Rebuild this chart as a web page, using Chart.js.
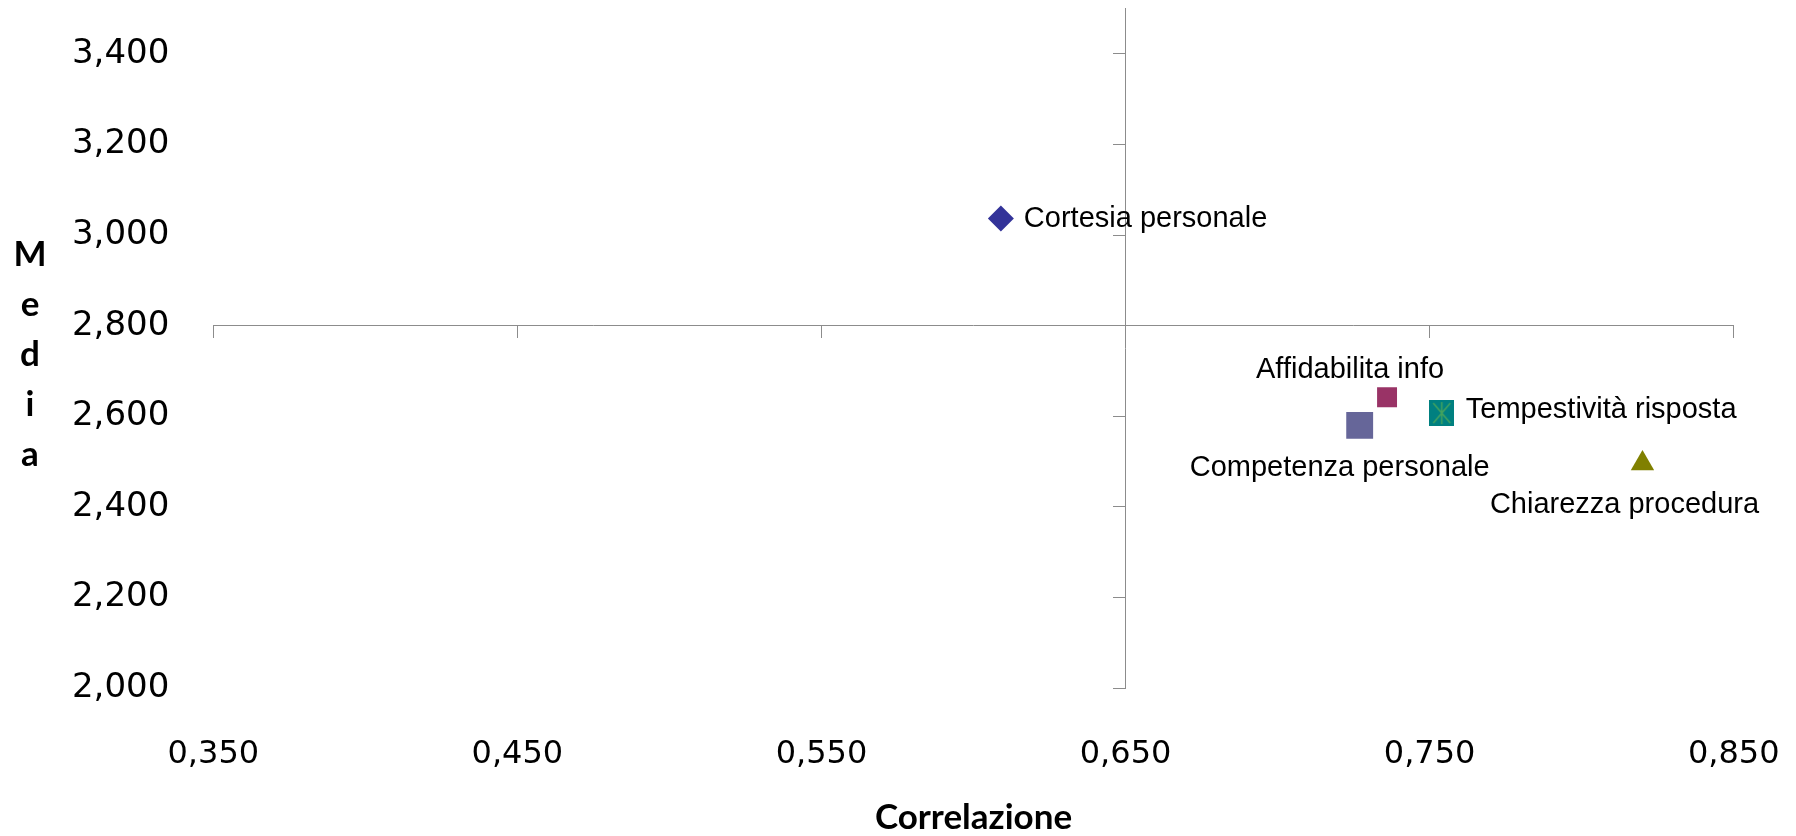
<!DOCTYPE html>
<html><head><meta charset="utf-8">
<script src="https://cdn.jsdelivr.net/npm/chart.js@4/dist/chart.umd.min.js"></script>
<style>html,body{margin:0;padding:0;background:#fff}#wrap{width:1796px;height:836px;position:relative}</style>
</head><body><div id="wrap"><canvas id="c"></canvas></div>
<script>
// ---- data ----
const categories = ['Cortesia personale', 'Affidabilita info', 'Competenza personale', 'Tempestività risposta', 'Chiarezza procedura'];
const correlazione = [0.609, 0.736, 0.727, 0.754, 0.820];
const media = [3.037, 2.642, 2.580, 2.607, 2.496];
const xTicks = [0.35, 0.45, 0.55, 0.65, 0.75, 0.85];
const yTicks = [2.0, 2.2, 2.4, 2.6, 2.8, 3.0, 3.2, 3.4];
const xTitle = 'Correlazione';
const yTitle = 'Media';
const xCross = 0.65, yCross = 2.8;

// ---- styles ----
function starMarker() {
  const c = document.createElement('canvas'); c.width = 25; c.height = 26;
  const g = c.getContext('2d');
  g.fillStyle = '#008080'; g.fillRect(0, 0, 25, 26);
  g.strokeStyle = '#44a35e'; g.lineWidth = 1.5;
  g.beginPath();
  g.moveTo(12.5, 2); g.lineTo(12.5, 24);
  g.moveTo(4, 3); g.lineTo(21, 23);
  g.moveTo(21, 3); g.lineTo(4, 23);
  g.stroke();
  return c;
}
const pointStyles = ['rectRot', 'rect', 'rect', starMarker(), 'triangle'];
const pointRadii = [13, 14.1, 19, 13, 13.5];
const pointColors = ['#333399', '#993366', '#666699', '#008080', '#808000'];
// label placement: [dx, dy, align]
const labelPlace = [[23, 1, 'left'], [-37, -27, 'center'], [-20, 43, 'center'], [24, -3, 'left'], [-18, 42, 'center']];

const fmt = v => Number(v).toFixed(3).replace('.', ',');
const zeroPad = s => { s.paddingTop = 0; s.paddingBottom = 0; s.paddingLeft = 0; s.paddingRight = 0; };
const axisGray = '#8c8c8c';

const labelsPlugin = {
  id: 'pointLabels',
  afterDatasetsDraw(chart) {
    const ctx = chart.ctx;
    const meta = chart.getDatasetMeta(0);
    ctx.save();
    ctx.font = '29px "Liberation Sans", Arial, sans-serif';
    ctx.fillStyle = '#000';
    ctx.textBaseline = 'middle';
    meta.data.forEach((el, i) => {
      const [dx, dy, al] = labelPlace[i];
      ctx.textAlign = al;
      ctx.fillText(categories[i], el.x + dx, el.y + dy);
    });
    ctx.restore();
  }
};
const titlesPlugin = {
  id: 'axisTitles',
  afterDraw(chart) {
    const ctx = chart.ctx, a = chart.chartArea;
    ctx.save();
    ctx.fillStyle = '#000';
    ctx.font = 'bold 35px Lato, "Open Sans", sans-serif';
    ctx.textAlign = 'center';
    ctx.textBaseline = 'alphabetic';
    ctx.fillText(xTitle, (a.left + a.right) / 2, 829);
    yTitle.split('').forEach((ch, i) => ctx.fillText(ch, 30, 266 + i * 50));
    ctx.restore();
  }
};

new Chart(document.getElementById('c'), {
  type: 'scatter',
  data: {
    datasets: [{
      data: correlazione.map((x, i) => ({ x, y: media[i] })),
      xAxisID: 'x', yAxisID: 'y',
      pointStyle: pointStyles,
      pointRadius: pointRadii,
      pointBackgroundColor: pointColors,
      pointBorderColor: pointColors,
      pointBorderWidth: 0,
      pointHoverRadius: pointRadii
    }]
  },
  options: {
    responsive: true, maintainAspectRatio: false, animation: false,
    layout: { autoPadding: false, padding: { top: 8.7, right: 62.3, left: 0, bottom: 0 } },
    plugins: { legend: { display: false }, tooltip: { enabled: false } },
    scales: {
      x: {
        type: 'linear', position: 'bottom', min: xTicks[0], max: xTicks[xTicks.length - 1],
        afterBuildTicks: s => { s.ticks = xTicks.map(v => ({ value: v })); },
        ticks: { callback: fmt, font: { family: 'DejaVu Sans', size: 32 }, color: '#000', padding: 47, maxRotation: 0, autoSkip: false },
        grid: { display: false, drawTicks: false }, border: { display: false },
        afterFit: s => { s.height = 148; zeroPad(s); }
      },
      y: {
        type: 'linear', position: 'left', min: 2.0, max: 3.5,
        afterBuildTicks: s => { s.ticks = yTicks.map(v => ({ value: v })); },
        ticks: { callback: fmt, font: { family: 'DejaVu Sans', size: 34 }, color: '#000', padding: 44, autoSkip: false },
        grid: { display: false, drawTicks: false }, border: { display: false },
        afterFit: s => { s.width = 213.3; zeroPad(s); }
      },
      xc: {
        type: 'linear', axis: 'x', position: { y: yCross }, min: xTicks[0], max: xTicks[xTicks.length - 1],
        afterBuildTicks: s => { s.ticks = xTicks.map(v => ({ value: v })); },
        ticks: { display: false },
        grid: { drawOnChartArea: false, drawTicks: true, tickLength: 12, color: axisGray, lineWidth: 1 },
        border: { display: true, color: axisGray, width: 1 },
        afterFit: zeroPad
      },
      yc: {
        type: 'linear', axis: 'y', position: { x: xCross }, min: 2.0, max: 3.5,
        afterBuildTicks: s => { s.ticks = yTicks.map(v => ({ value: v })); },
        ticks: { display: false },
        grid: { drawOnChartArea: false, drawTicks: true, tickLength: 12, color: axisGray, lineWidth: 1 },
        border: { display: true, color: axisGray, width: 1 },
        afterFit: zeroPad
      }
    }
  },
  plugins: [labelsPlugin, titlesPlugin]
});
</script>
</body></html>
